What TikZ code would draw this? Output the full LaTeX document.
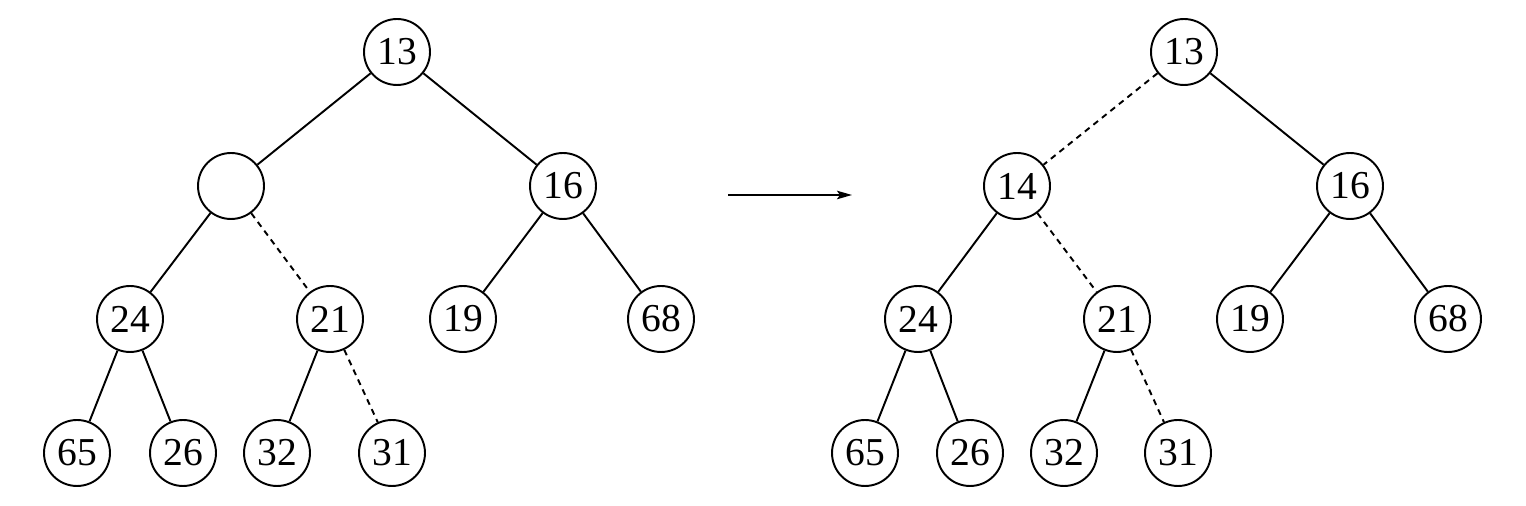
\documentclass[tikz,border=0pt]{standalone}
\usepackage{fontspec}
\setmainfont{Liberation Serif}
\usepackage{tikz}
\usetikzlibrary{arrows.meta}

\begin{document}
\begin{tikzpicture}[x=0.02cm,y=-0.02cm,
heapnode/.style={
  draw,
  circle,
  line width=1.1pt,
  minimum size=1.32cm,
  inner sep=0pt,
  font={\fontsize{22.5}{26}\selectfont}},
edge/.style={line width=1.1pt},
moved/.style={edge, dash pattern=on 3.4pt off 2.8pt},
]
\useasboundingbox (0,0) rectangle (1526,506);
% before: hole at the root's left child
\node[heapnode] (l13) at (397,52) {13};
\node[heapnode] (lhole) at (231,186) {};
\node[heapnode] (l16) at (563,186) {16};
\node[heapnode] (l24) at (130,319) {24};
\node[heapnode] (l21) at (330,319) {21};
\node[heapnode] (l19) at (463,319) {19};
\node[heapnode] (l68) at (661,319) {68};
\node[heapnode] (l65) at (77,453) {65};
\node[heapnode] (l26) at (183,453) {26};
\node[heapnode] (l32) at (277,453) {32};
\node[heapnode] (l31) at (392,453) {31};

\draw[edge] (l13) -- (lhole);
\draw[edge] (l13) -- (l16);
\draw[edge] (lhole) -- (l24);
\draw[moved] (lhole) -- (l21);
\draw[edge] (l16) -- (l19);
\draw[edge] (l16) -- (l68);
\draw[edge] (l24) -- (l65);
\draw[edge] (l24) -- (l26);
\draw[edge] (l21) -- (l32);
\draw[moved] (l21) -- (l31);

% after
\node[heapnode] (r13) at (1184,52) {13};
\node[heapnode] (r14) at (1017,186) {14};
\node[heapnode] (r16) at (1350,186) {16};
\node[heapnode] (r24) at (918,319) {24};
\node[heapnode] (r21) at (1117,319) {21};
\node[heapnode] (r19) at (1250,319) {19};
\node[heapnode] (r68) at (1448,319) {68};
\node[heapnode] (r65) at (865,453) {65};
\node[heapnode] (r26) at (970,453) {26};
\node[heapnode] (r32) at (1064,453) {32};
\node[heapnode] (r31) at (1178,453) {31};

\draw[moved] (r13) -- (r14);
\draw[edge] (r13) -- (r16);
\draw[edge] (r14) -- (r24);
\draw[moved] (r14) -- (r21);
\draw[edge] (r16) -- (r19);
\draw[edge] (r16) -- (r68);
\draw[edge] (r24) -- (r65);
\draw[edge] (r24) -- (r26);
\draw[edge] (r21) -- (r32);
\draw[moved] (r21) -- (r31);

\coordinate (from) at (728,195);
\coordinate (to) at (852,195);
\draw[line width=1.1pt, -{Stealth[length=0.3cm, width=0.17cm, inset=0.06cm]}] (from) -- (to);
\end{tikzpicture}
\end{document}
